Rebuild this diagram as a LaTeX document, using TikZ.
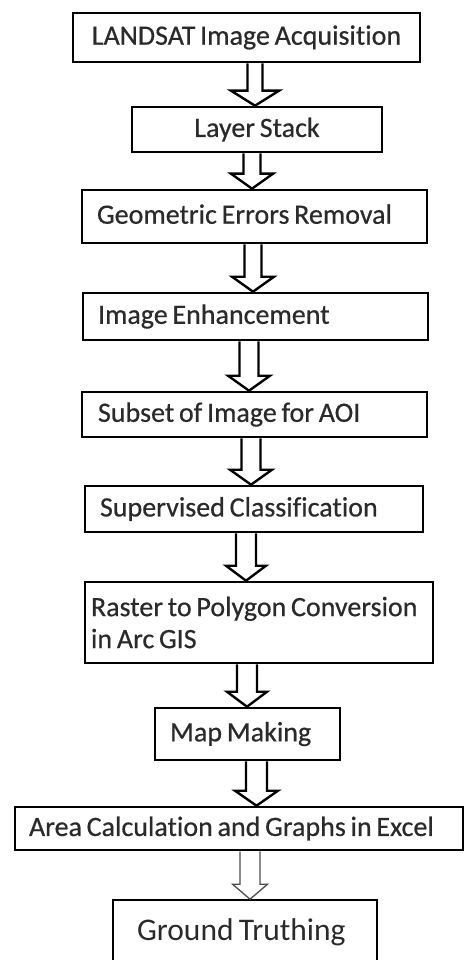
\documentclass[tikz,border=0pt]{standalone}
\usepackage{fontspec}
\setmainfont[Ligatures=NoCommon, WordSpace=0.75]{Carlito}
\newfontfamily\labelfont[Ligatures=NoCommon, WordSpace=0.75, FakeBold=0.5]{Carlito}
\usetikzlibrary{calc}
\definecolor{ink}{HTML}{2A2A2A}
\tikzset{
  stepbox/.style={draw=black, line width=2.6pt, fill=white, inner ysep=0pt,
    text=ink, font=\labelfont\fontsize{28}{32}\selectfont,
    execute at begin node={\spaceskip=0.17em\relax}},
  leftbox/.style={stepbox, align=left, inner xsep=#1},
  heavyarrow/.style={draw=black, line width=2.4pt, fill=white, line join=miter},
  lightarrow/.style={draw=black!70, line width=1.3pt, fill=white, line join=miter},
}
% hollow block arrow: style, source, target, centre x, shaft half width, head half width
\newcommand\blockarrow[6]{%
  \draw[#1] let \p1=(#2.south), \p2=(#3.north) in
    ({#4pt-#5pt},\y1) -- ({#4pt-#5pt},{\y2+15pt}) -- ({#4pt-#6pt},{\y2+15pt})
    -- ({#4pt},\y2) -- ({#4pt+#6pt},{\y2+15pt}) -- ({#4pt+#5pt},{\y2+15pt})
    -- ({#4pt+#5pt},\y1);}
\begin{document}
\begin{tikzpicture}[x=1pt, y=-1pt]
\useasboundingbox (0,0) rectangle (465,960);
\clip (0,0) rectangle (465,960);

\node[stepbox, minimum width=347pt, minimum height=49pt] (n1) at (246.5,37.5)
  {\raisebox{2pt}{LANDSAT Image Acquisition}};
\node[stepbox, minimum width=250pt, minimum height=45pt] (n2) at (257,129.5)
  {\raisebox{2pt}{Layer Stack}};
\node[leftbox=15pt, text width=315pt, minimum height=53pt] (n3) at (254.5,216.5)
  {\raisebox{5pt}{Geometric Errors Removal}};
\node[leftbox=15pt, text width=315pt, minimum height=47pt] (n4) at (255.5,316.5)
  {Image Enhancement};
\node[leftbox=16pt, text width=313pt, minimum height=45pt] (n5) at (254.5,414.5)
  {Subset of Image for AOI};
\node[leftbox=15pt, text width=308pt, minimum height=46pt] (n6) at (254,509)
  {Supervised Classification};
\node[leftbox=6pt, text width=336pt, minimum height=81pt] (n7) at (259,622.5)
  {Raster to Polygon Conversion\\in Arc GIS};
\node[leftbox=15pt, text width=155pt, minimum height=52pt] (n8) at (247.5,734)
  {\raisebox{3pt}{Map Making}};
\node[leftbox=14pt, text width=420pt, minimum height=43pt] (n9) at (239,828.5)
  {Area Calculation and Graphs in Excel};
\node[stepbox, line width=1.6pt, align=left, inner xsep=24pt, text width=216pt,
  minimum height=64pt, font=\rmfamily\fontsize{31.5}{36}\selectfont] (n10) at (245,932)
  {\raisebox{4pt}{Ground Truthing}};

\blockarrow{heavyarrow}{n1}{n2}{255}{7.5}{24}
\blockarrow{heavyarrow}{n2}{n3}{252}{8.5}{21}
\blockarrow{heavyarrow}{n3}{n4}{253}{8.5}{21}
\blockarrow{heavyarrow}{n4}{n5}{249}{9.5}{21}
\blockarrow{heavyarrow}{n5}{n6}{251}{9.5}{21}
\blockarrow{heavyarrow}{n6}{n7}{246}{10}{20}
\blockarrow{heavyarrow}{n7}{n8}{247}{10}{20}
\blockarrow{heavyarrow}{n8}{n9}{256.5}{10.5}{21.5}
\blockarrow{lightarrow}{n9}{n10}{250}{10}{17.5}
\end{tikzpicture}
\end{document}
